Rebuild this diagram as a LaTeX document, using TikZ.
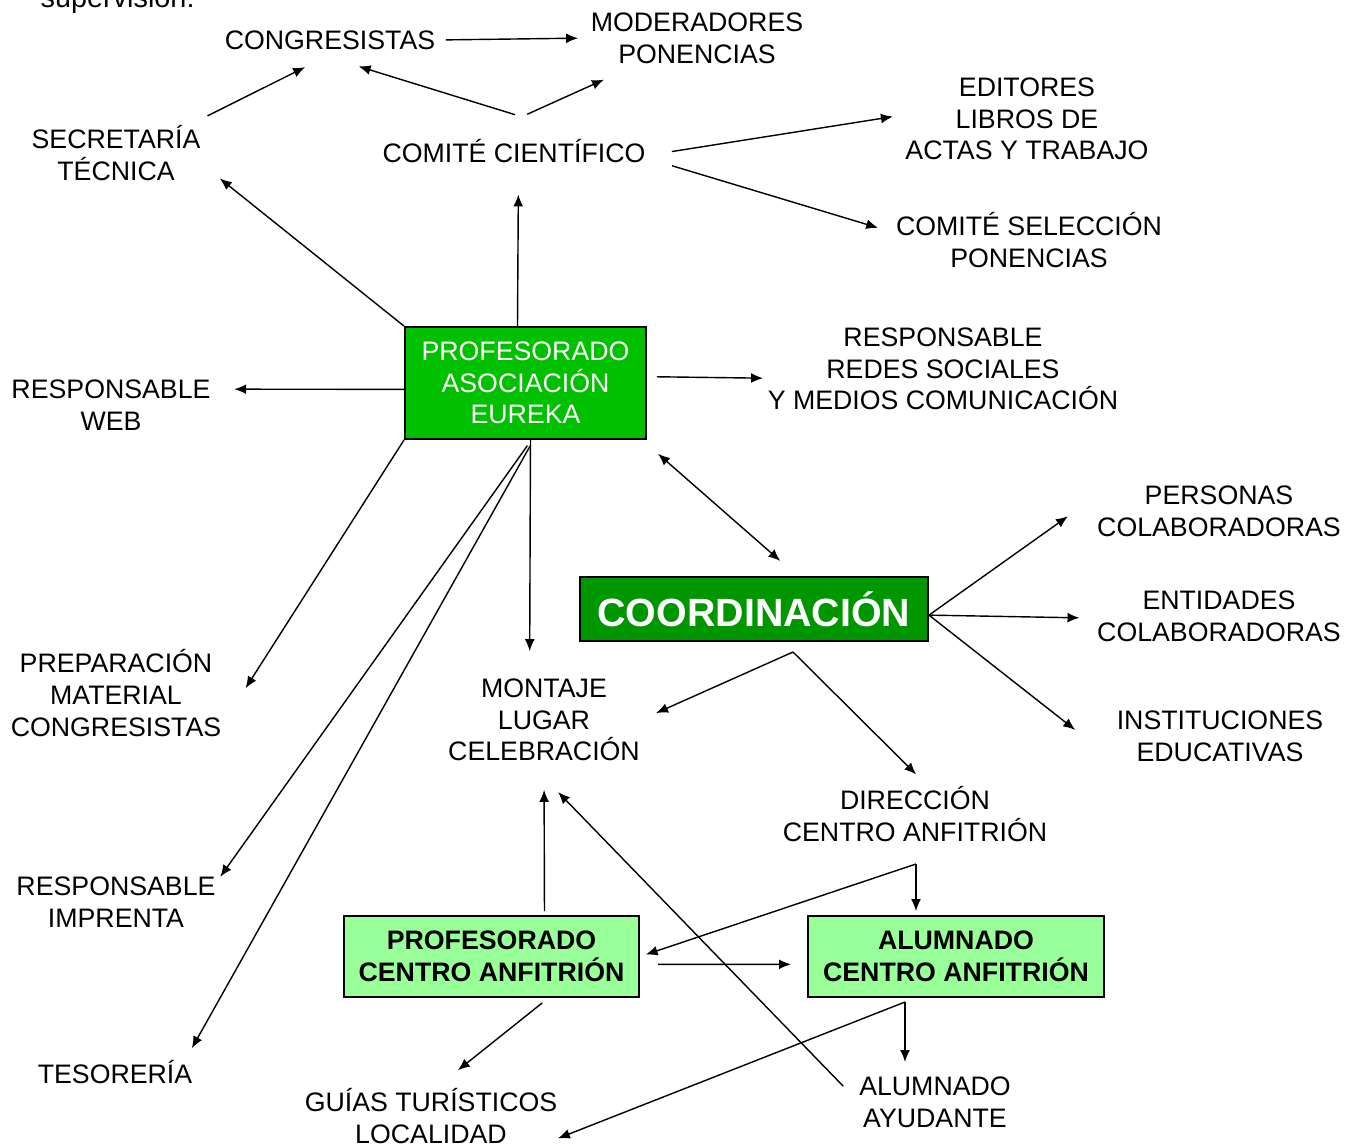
\documentclass[tikz,border=0pt]{standalone}
\usepackage{fontspec}
\setmainfont{Liberation Sans}
\usetikzlibrary{arrows.meta}
\definecolor{eurekagreen}{RGB}{0,192,0}
\definecolor{coordgreen}{RGB}{0,150,0}
\definecolor{hostgreen}{RGB}{153,255,153}

\begin{document}
\begin{tikzpicture}[x=0.01cm, y=-0.01cm,
  lbl/.style={align=center, inner sep=0pt, font=\fontsize{7.6}{9}\selectfont},
  box/.style={draw, line width=0.5pt, inner sep=0pt, align=center, font=\fontsize{7.6}{9}\selectfont},
  arr/.style={line width=0.4pt, -{Latex[length=3.4pt,width=2.8pt]}}]

\useasboundingbox (0,0) rectangle (1356,1147) ;

\node [lbl, font=\fontsize{8.2}{9.6}\selectfont, anchor=base west] (sup) at (40,7) {supervisión:} ;
\node [lbl] (cong) at (330,40) {CONGRESISTAS} ;
\node [lbl] (mod) at (697,38) {MODERADORES\\PONENCIAS} ;
\node [lbl] (secr) at (116,153) {SECRETARÍA\\TÉCNICA} ;
\node [lbl] (comite) at (514,151) {COMITÉ CIENTÍFICO} ;
\node [lbl] (edit) at (1027,119) {EDITORES\\LIBROS DE\\ACTAS Y TRABAJO} ;
\node [lbl] (csel) at (1029,240) {COMITÉ SELECCIÓN\\PONENCIAS} ;
\node [box, fill=eurekagreen, text=white, minimum width=2.41cm, minimum height=1.12cm] (prof) at (525.5,383) {PROFESORADO\\ASOCIACIÓN\\EUREKA} ;
\node [lbl] (redes) at (943,369) {RESPONSABLE\\REDES SOCIALES\\Y MEDIOS COMUNICACIÓN} ;
\node [lbl] (web) at (111,405) {RESPONSABLE\\WEB} ;
\node [lbl] (pers) at (1219,511) {PERSONAS\\COLABORADORAS} ;
\node [box, fill=coordgreen, text=white, minimum width=3.48cm, minimum height=0.64cm, font=\fontsize{11.2}{13}\selectfont\bfseries] (coord) at (754,609) {COORDINACIÓN} ;
\node [lbl] (ent) at (1219,616) {ENTIDADES\\COLABORADORAS} ;
\node [lbl] (prep) at (116,693) {PREPARACIÓN\\MATERIAL\\CONGRESISTAS} ;
\node [lbl] (mont) at (544,720) {MONTAJE\\LUGAR\\CELEBRACIÓN} ;
\node [lbl] (inst) at (1220,736) {INSTITUCIONES\\EDUCATIVAS} ;
\node [lbl] (dir) at (915,814) {DIRECCIÓN\\CENTRO ANFITRIÓN} ;
\node [lbl] (impr) at (116,902) {RESPONSABLE\\IMPRENTA} ;
\node [box, fill=hostgreen, minimum width=2.95cm, minimum height=0.81cm, font=\fontsize{7.6}{9}\selectfont\bfseries] (profc) at (491.5,956.5) {PROFESORADO\\CENTRO ANFITRIÓN} ;
\node [box, fill=hostgreen, minimum width=2.96cm, minimum height=0.81cm, font=\fontsize{7.6}{9}\selectfont\bfseries] (alumc) at (956,956.5) {ALUMNADO\\CENTRO ANFITRIÓN} ;
\node [lbl] (tes) at (115,1072) {TESORERÍA} ;
\node [lbl] (guias) at (431,1116) {GUÍAS TURÍSTICOS\\LOCALIDAD} ;
\node [lbl] (ayud) at (935,1102) {ALUMNADO\\AYUDANTE} ;

\coordinate (coordsplit) at (793,652) ;
\coordinate (dirsplit) at (916,864) ;
\coordinate (alumsplit) at (905,1002) ;

% top part
\draw [arr, shorten <=1mm, shorten >=1.2mm] (cong.east) -- (mod.west) ;
\draw [arr, shorten <=2mm, shorten >=3.8mm] (secr.21) -- (cong.312) ;
\draw [arr, shorten <=8.1mm, shorten >=5.5mm] (comite.9) -- (cong.203) ;
\draw [arr, shorten <=5.9mm, shorten >=3.8mm] (comite.163) -- (mod.204) ;
\draw [arr, shorten <=2.6mm, shorten >=1.2mm] (comite.358) -- (edit.178) ;
\draw [arr, shorten <=2.7mm, shorten >=1.8mm] (comite.357) -- (csel.177) ;

% profesorado eureka
\draw [arr, shorten >=3.1mm] (prof.98) -- (comite.290) ;
\draw [arr, shorten >=2.4mm] (prof.north west) -- (secr.353) ;
\draw [arr, shorten >=2.3mm] (prof.183) -- (web.9) ;
\draw [arr, shorten <=1mm, shorten >=0.4mm] (prof.3) -- (redes.183) ;
\draw [arr, {Latex[length=3.4pt,width=2.8pt]}-{Latex[length=3.4pt,width=2.8pt]}, shorten <=2.1mm, shorten >=2.3mm] (prof.334) -- (coord.37) ;
\draw [arr, shorten >=4.4mm] (prof.south west) -- (prep.343) ;
\draw [arr, shorten >=2.7mm] (prof.275) -- (mont.109) ;
\draw [arr, shorten <=0.7mm, shorten >=0.7mm] (prof.276) -- (impr.11) ;
\draw [arr, shorten <=0.7mm, shorten >=1.3mm] (prof.278) -- (tes.10) ;

% coordinacion
\draw [arr, shorten >=3.5mm] (coord.358) -- (pers.173) ;
\draw [arr, shorten >=1.7mm] (coord.358) -- (ent.181) ;
\draw [arr, shorten >=5.2mm] (coord.358) -- (inst.south west) ;
\draw [arr, shorten >=1.7mm] (coordsplit) -- (mont.east) ;
\draw [arr, shorten >=1.6mm] (coordsplit) -- (dir.66) ;

% centro anfitrion
\draw [arr, shorten >=0.6mm] (dirsplit) -- (profc.east) ;
\draw [arr, shorten >=0.4mm] (dirsplit) -- (dirsplit |- alumc.north) ;
\draw [arr, shorten <=0.4mm, shorten >=2.8mm] (profc.38) -- (mont.south) ;
\draw [arr, shorten <=1.8mm, shorten >=1.6mm] (profc.357) -- (alumc.183) ;
\draw [arr, shorten <=2.2mm, shorten >=4.2mm] (ayud.west) -- (mont.250) ;
\draw [arr, shorten >=1.4mm] (alumsplit) -- (alumsplit |- ayud.north) ;
\draw [arr] (alumsplit) -- (guias.350) ;
\draw [arr, shorten <=0.8mm, shorten >=2.8mm] (profc.324) -- (guias.80) ;
\end{tikzpicture}
\end{document}
